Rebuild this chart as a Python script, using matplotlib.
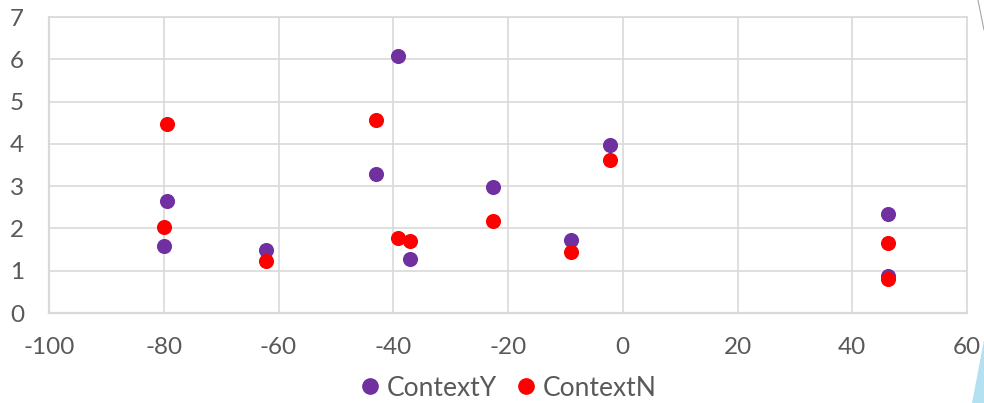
import matplotlib
matplotlib.use('Agg')
import matplotlib.pyplot as plt
from matplotlib.patches import Polygon
from matplotlib.lines import Line2D

PURPLE = '#7030A0'; RED = '#FF0000'; GRID = '#D9D9D9'; TXT = '#595959'

plt.rcParams.update({'font.family': ['Lato', 'DejaVu Sans'], 'font.size': 17,
                     'axes.unicode_minus': False})

# data (both series share x positions)
x_vals     = [-80, -79.5, -62.2, -43.0, -39.1, -37.0, -22.7, -9.0, -2.2, 46.2, 46.2]
context_y  = [1.58, 2.65, 1.48, 3.29, 6.07, 1.28, 2.99, 1.73, 3.97, 2.35, 0.88]
context_n  = [2.04, 4.46, 1.22, 4.57, 1.78, 1.70, 2.18, 1.44, 3.63, 1.65, 0.80]

fig = plt.figure(figsize=(9.84, 4.03), dpi=100)
ax = fig.add_axes([49/984, 1-313/403, (967-49)/984, (313-17)/403])

ax.scatter(x_vals, context_y, s=118, color=PURPLE, linewidths=0, zorder=3, label='ContextY')
ax.scatter(x_vals, context_n, s=118, color=RED, linewidths=0, zorder=4, label='ContextN')

ax.set_xlim(-100, 60); ax.set_ylim(0, 7)
ax.set_xticks(range(-100, 61, 20)); ax.set_yticks(range(0, 8))
ax.grid(True, color=GRID, linewidth=1.2); ax.set_axisbelow(True)
for s in ax.spines.values():
    s.set_color(GRID); s.set_linewidth(1.2)
ax.spines['left'].set_linewidth(1.6); ax.spines['bottom'].set_linewidth(1.6)
ax.tick_params(length=0, colors=TXT, labelsize=17.5)
ax.tick_params(axis='x', pad=17); ax.tick_params(axis='y', pad=18)

handles = [Line2D([], [], marker='o', ls='', color=PURPLE, markersize=11),
           Line2D([], [], marker='o', ls='', color=RED, markersize=11)]
leg = fig.legend(handles, ['ContextY', 'ContextN'], loc='center', ncol=2, frameon=False,
                 bbox_to_anchor=(508/984, 1-388/403), handlelength=0.8, handletextpad=0.25,
                 columnspacing=0.7, fontsize=19)
for t in leg.get_texts(): t.set_color(TXT)

# slide decoration at the right edge
fig.add_artist(Polygon([(972/984, 0), (1, 1-340/403), (1, 0)],
                       closed=True, transform=fig.transFigure, facecolor='#B4E1F2', edgecolor='none'))
fig.add_artist(Line2D([978/984, 984/984], [1, 1-30/403], transform=fig.transFigure,
                      color='#A6A6A6', linewidth=0.8))

fig.savefig('out.png', dpi=100, facecolor='white')
